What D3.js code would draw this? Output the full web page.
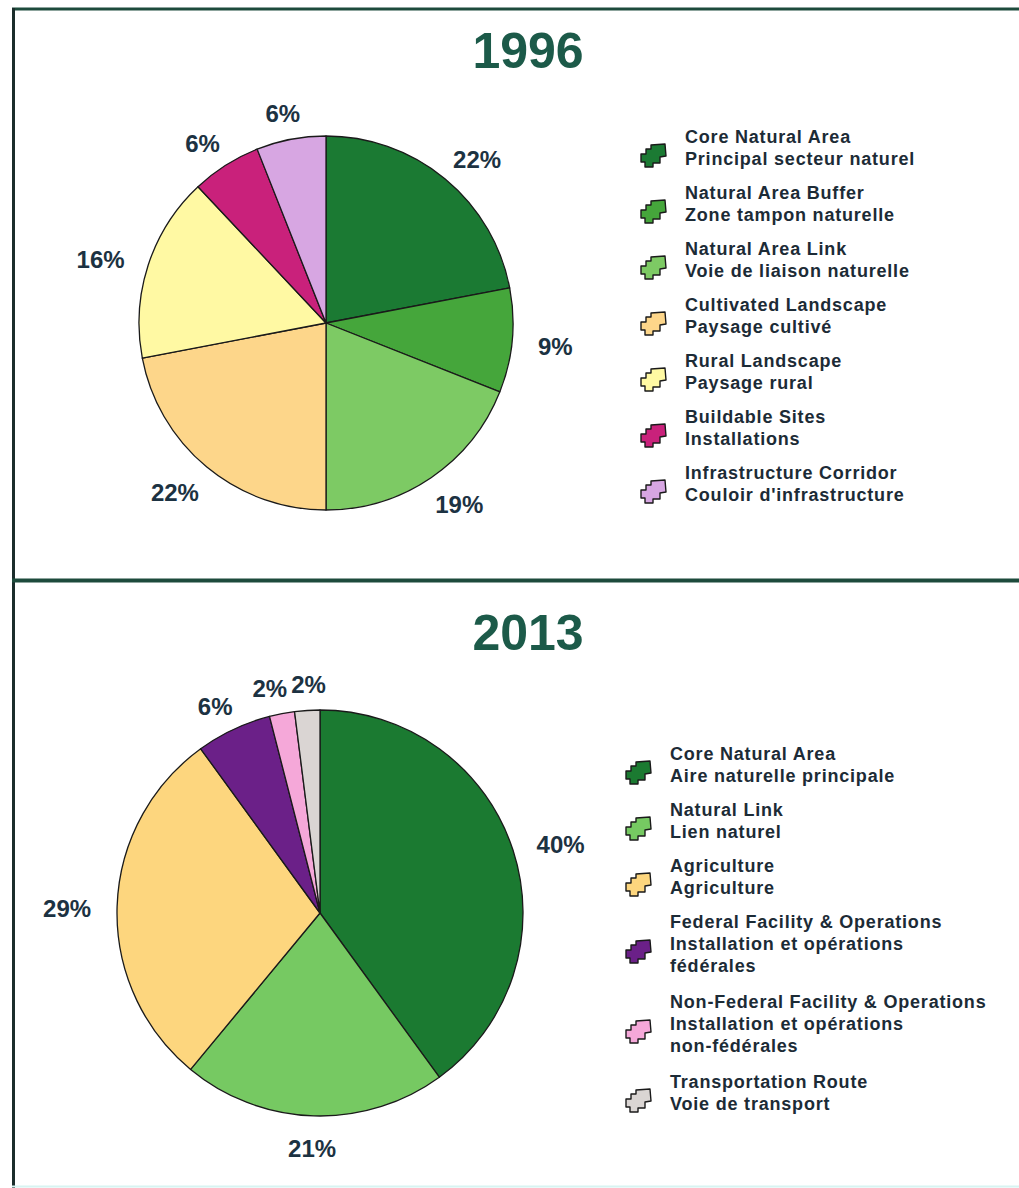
<!DOCTYPE html>
<html>
<head>
<meta charset="utf-8">
<script src="https://cdn.jsdelivr.net/npm/d3@7"></script>
<style>
  body { margin: 0; background: #fff; }
  svg { display: block; font-family: "Liberation Sans", Arial, sans-serif; }
</style>
</head>
<body>
<svg id="chart" width="1019" height="1188"></svg>
<script>
// ---- data ----
const values1996 = [22, 9, 19, 22, 16, 6, 6];
const colors1996 = ["#1b7a33", "#45a63b", "#7dca64", "#fdd68a", "#fff9a3", "#c9217b", "#d7a6e2"];
const legend1996 = [
  ["Core Natural Area", "Principal secteur naturel"],
  ["Natural Area Buffer", "Zone tampon naturelle"],
  ["Natural Area Link", "Voie de liaison naturelle"],
  ["Cultivated Landscape", "Paysage cultivé"],
  ["Rural Landscape", "Paysage rural"],
  ["Buildable Sites", "Installations"],
  ["Infrastructure Corridor", "Couloir d'infrastructure"]
];

const values2013 = [40, 21, 29, 6, 2, 2];
const colors2013 = ["#1b7a31", "#76c962", "#fdd67e", "#6b2088", "#f5a8d9", "#dad5d3"];
const legend2013 = [
  ["Core Natural Area", "Aire naturelle principale"],
  ["Natural Link", "Lien naturel"],
  ["Agriculture", "Agriculture"],
  ["Federal Facility & Operations", "Installation et opérations", "fédérales"],
  ["Non-Federal Facility & Operations", "Installation et opérations", "non-fédérales"],
  ["Transportation Route", "Voie de transport"]
];

const svg = d3.select("#chart");

// frame
const frameColor = "#1d4b3c";
svg.append("line").attr("x1", 12).attr("x2", 1019).attr("y1", 9).attr("y2", 9)
  .attr("stroke", frameColor).attr("stroke-width", 3);
svg.append("line").attr("x1", 13.5).attr("x2", 13.5).attr("y1", 8).attr("y2", 1188)
  .attr("stroke", "#1b2d2b").attr("stroke-width", 3);
svg.append("line").attr("x1", 12).attr("x2", 1019).attr("y1", 580.5).attr("y2", 580.5)
  .attr("stroke", frameColor).attr("stroke-width", 4);
svg.append("line").attr("x1", 12).attr("x2", 1019).attr("y1", 1186.5).attr("y2", 1186.5)
  .attr("stroke", "#d8f4f2").attr("stroke-width", 2);

// legend icon, a little stepped map-piece shape
const iconPath = "M0,10 L5,10 L5,5 L10,5 L10,1 L24,0 L25,12 L19,13 L19,19 L12,19 L12,23 L4,23 L4,18 L0,18 Z";

function drawPanel({ title, titleY, cx, cy, r, values, colors, legend, legendX, legendY }) {
  const g = svg.append("g");

  g.append("text")
    .attr("x", 528).attr("y", titleY)
    .attr("text-anchor", "middle")
    .attr("font-size", 50).attr("font-weight", "bold")
    .attr("fill", "#1c5a49")
    .text(title);

  const pie = d3.pie().sort(null).value(d => d);
  const arcs = pie(values);
  const arc = d3.arc().innerRadius(0).outerRadius(r);

  const pg = g.append("g").attr("transform", `translate(${cx},${cy})`);
  pg.selectAll("path")
    .data(arcs)
    .join("path")
    .attr("d", arc)
    .attr("fill", (d, i) => colors[i])
    .attr("stroke", "#1a1a1a")
    .attr("stroke-width", 1.3)
    .attr("stroke-linejoin", "round");

  // labels: box touches a circle a bit outside the pie
  const labels = pg.selectAll("text")
    .data(arcs)
    .join("text")
    .attr("text-anchor", "middle")
    .attr("dy", "0.36em")
    .attr("font-size", 24).attr("font-weight", "bold")
    .attr("fill", "#1c3242")
    .text(d => `${d.data}%`);

  const R = r + 20, h = 18;
  const pos = [];
  labels.each(function (d) {
    const w = this.getComputedTextLength();
    const a = (d.startAngle + d.endAngle) / 2;
    const s = Math.sin(a), c = -Math.cos(a);
    pos.push({ x: (R + w / 2 + 6) * s, y: (R + h / 2) * c + 3, w });
  });
  // push apart labels that collide
  for (let k = 0; k < 5; k++) {
    for (let i = 0; i < pos.length; i++) {
      const p = pos[i], q = pos[(i + 1) % pos.length];
      if (p === q) continue;
      const need = (p.w + q.w) / 2 + 4;
      if (Math.abs(p.y - q.y) < h + 4 && Math.abs(p.x - q.x) < need) {
        const shift = (need - Math.abs(p.x - q.x)) / 2;
        if (p.x < q.x) { p.x -= shift; q.x += shift; } else { p.x += shift; q.x -= shift; }
      }
    }
  }
  labels.attr("x", (d, i) => pos[i].x).attr("y", (d, i) => pos[i].y);

  // legend
  let y = legendY;
  legend.forEach((lines, i) => {
    const item = g.append("g").attr("transform", `translate(${legendX},${y})`);
    const iconY = lines.length === 3 ? 18 : 7;
    item.append("path")
      .attr("d", iconPath)
      .attr("transform", `translate(0,${iconY})`)
      .attr("fill", colors[i])
      .attr("stroke", "#1a1a1a")
      .attr("stroke-width", 1.4)
      .attr("stroke-linejoin", "round");
    item.append("text")
      .attr("font-size", 18).attr("font-weight", "bold")
      .attr("letter-spacing", 0.8)
      .attr("fill", "#1c2b36")
      .selectAll("tspan")
      .data(lines)
      .join("tspan")
      .attr("x", 44)
      .attr("y", (d, j) => 6 + j * 22)
      .text(d => d);
    y += 56 + (lines.length - 2) * 24;
  });
}

drawPanel({
  title: "1996", titleY: 68,
  cx: 326, cy: 323, r: 187,
  values: values1996, colors: colors1996, legend: legend1996,
  legendX: 641, legendY: 137
});

drawPanel({
  title: "2013", titleY: 650,
  cx: 320, cy: 913, r: 203,
  values: values2013, colors: colors2013, legend: legend2013,
  legendX: 626, legendY: 754
});
</script>
</body>
</html>
